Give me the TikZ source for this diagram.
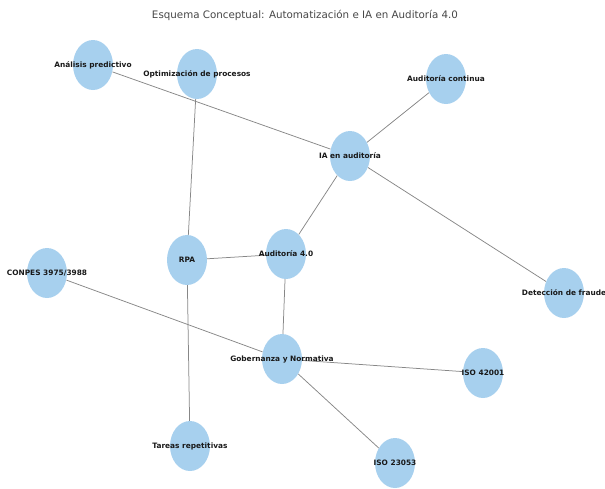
\documentclass[tikz,border=0pt]{standalone}
\usepackage{fontspec}
\setmainfont{DejaVu Sans}
\usepackage{tikz}
\usetikzlibrary{shapes.geometric,backgrounds}
\definecolor{nodeblue}{RGB}{167,208,238}
\definecolor{edgegray}{RGB}{135,135,135}
\definecolor{titlegray}{RGB}{70,70,70}

\begin{document}
\begin{tikzpicture}[x=1pt,y=-1pt]
\tikzstyle{concept}=[ellipse,fill=nodeblue,minimum width=40pt,minimum height=50pt,inner sep=0pt]
\tikzstyle{lbl}=[font=\fontsize{7.4}{8}\selectfont\bfseries,text=black!90]
\tikzstyle{link}=[draw=edgegray,line width=0.75pt]
\useasboundingbox (0,0) rectangle (605,488);

\node[font=\fontsize{10.3}{12}\selectfont,text=titlegray] (title) at (305,15) {Esquema Conceptual: Automatización e IA en Auditoría 4.0};

\node[concept,label={[lbl]center:Análisis predictivo}] (analisis) at (93,65) {};
\node[concept,label={[lbl]center:Optimización de procesos}] (optim) at (197,74) {};
\node[concept,label={[lbl]center:Auditoría continua}] (continua) at (446,79) {};
\node[concept,label={[lbl]center:IA en auditoría}] (ia) at (350,156) {};
\node[concept,label={[lbl]center:RPA}] (rpa) at (187,260) {};
\node[concept,label={[lbl]center:Auditoría 4.0}] (aud) at (286,254) {};
\node[concept,label={[lbl]center:CONPES 3975/3988}] (conpes) at (47,273) {};
\node[concept,label={[lbl]center:Detección de fraude}] (fraude) at (564,293) {};
\node[concept,label={[lbl]center:Gobernanza y Normativa}] (gob) at (282,359) {};
\node[concept,label={[lbl]center:ISO 42001}] (iso42) at (483,373) {};
\node[concept,label={[lbl]center:Tareas repetitivas}] (tareas) at (190,446) {};
\node[concept,label={[lbl]center:ISO 23053}] (iso23) at (395,463) {};

\begin{pgfonlayer}{background}
\draw[link] (analisis) -- (ia);
\draw[link] (continua) -- (ia);
\draw[link] (ia) -- (aud);
\draw[link] (ia) -- (fraude);
\draw[link] (optim) -- (rpa);
\draw[link] (rpa) -- (aud);
\draw[link] (rpa) -- (tareas);
\draw[link] (aud) -- (gob);
\draw[link] (conpes) -- (gob);
\draw[link] (gob) -- (iso42);
\draw[link] (gob) -- (iso23);
\end{pgfonlayer}
\end{tikzpicture}
\end{document}
